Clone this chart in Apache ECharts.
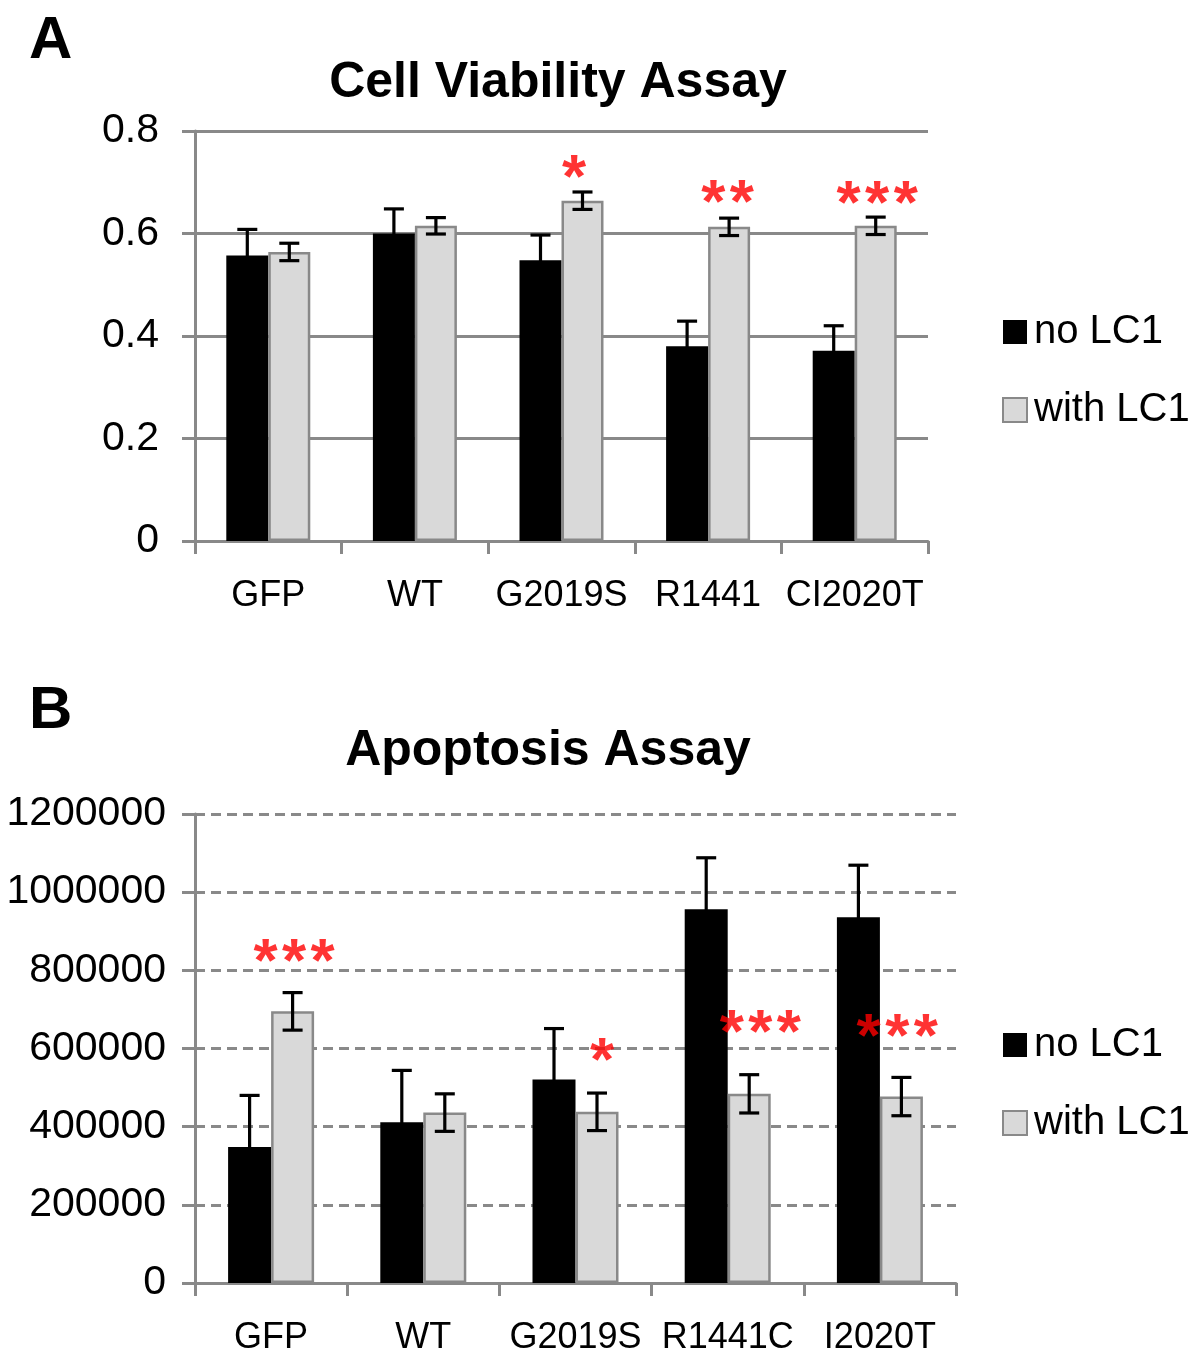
<!DOCTYPE html>
<html>
<head>
<meta charset="utf-8">
<script src="https://cdn.jsdelivr.net/npm/echarts@6/dist/echarts.min.js"></script>
<style>
html, body { margin: 0; padding: 0; background: #fff; }
#chart { width: 1200px; height: 1349px; }
</style>
</head>
<body>
<div id="chart"></div>
<script>
// panel A - cell viability
const catsA = ['GFP', 'WT', 'G2019S', 'R1441', 'CI2020T']
const viabNo = [0.557, 0.600, 0.548, 0.380, 0.371]
const viabNoErr = [0.051, 0.048, 0.049, 0.049, 0.049]
const viabWith = [0.564, 0.615, 0.664, 0.613, 0.615]
const viabWithErr = [0.017, 0.016, 0.017, 0.017, 0.017]
const ticksA = [0, 0.2, 0.4, 0.6, 0.8]
// significance marks: [place along categories, height, text]
const starsA = [[2.585, 0.730, '*'], [3.633, 0.681, '**'], [4.653, 0.679, '***']]

// panel B - apoptosis
const catsB = ['GFP', 'WT', 'G2019S', 'R1441C', 'I2020T']
const apopNo = [348000, 411000, 521000, 956000, 936000]
const apopNoErr = [132000, 133000, 130000, 132000, 133000]
const apopWith = [695000, 436000, 438000, 484000, 477000]
const apopWithErr = [48000, 48000, 48000, 49000, 49000]
const ticksB = [0, 200000, 400000, 600000, 800000, 1000000, 1200000]
const starsB = [[0.651, 849000, '***'], [2.675, 596000, '*'], [3.714, 667000, '***'], [4.614, 658000, '***']]

const FONT = 'Liberation Sans, Arial, Helvetica, sans-serif'
const AXIS_GRAY = '#898989'

function tickLabel(ticks) {
  return (v) => {
    const t = ticks.find((x) => Math.abs(x - v) < 1e-9)
    return t === undefined ? '' : String(t)
  }
}

function catAxis(gridIndex, cats) {
  return {
    type: 'category',
    gridIndex: gridIndex,
    data: cats,
    axisLine: { lineStyle: { color: AXIS_GRAY, width: 3 } },
    axisTick: { show: true, length: 13, lineStyle: { color: AXIS_GRAY, width: 3 } },
    axisLabel: { interval: 0, color: '#000', fontSize: 36, fontFamily: FONT, margin: 37 },
    splitLine: { show: false },
  }
}

function valAxis(gridIndex, ticks, dashed, margin) {
  return {
    type: 'value',
    gridIndex: gridIndex,
    min: ticks[0],
    max: ticks[ticks.length - 1],
    interval: ticks[1] - ticks[0],
    axisLine: { show: true, lineStyle: { color: AXIS_GRAY, width: 3 } },
    axisTick: { show: true, length: 13, lineStyle: { color: AXIS_GRAY, width: 3 } },
    axisLabel: { color: '#000', fontSize: 41, fontFamily: FONT, margin: margin, formatter: tickLabel(ticks) },
    splitLine: {
      show: true,
      lineStyle: { color: AXIS_GRAY, width: 3, type: dashed ? [10, 6] : 'solid' },
    },
  }
}

function hiddenAxis(gridIndex) {
  return { type: 'value', gridIndex: gridIndex, min: 0, max: 5, show: false }
}

function barSeries(name, values, idx, barW, gray) {
  return {
    name: name,
    type: 'bar',
    xAxisIndex: idx,
    yAxisIndex: idx,
    barWidth: barW,
    barGap: '0%',
    data: values,
    itemStyle: gray
      ? { color: '#d9d9d9', borderColor: AXIS_GRAY, borderWidth: 2.5 }
      : { color: '#000' },
  }
}

function errorSeries(values, errs, idx, shift) {
  return {
    type: 'custom',
    xAxisIndex: idx,
    yAxisIndex: idx,
    silent: true,
    z: 10,
    encode: { x: 0, y: [1, 2] },
    data: values.map((v, i) => [i, v - errs[i], v + errs[i]]),
    renderItem: (params, api) => {
      const lo = api.coord([api.value(0), api.value(1)])
      const hi = api.coord([api.value(0), api.value(2)])
      const x = lo[0] + shift
      const cap = 10
      const st = { stroke: '#000', lineWidth: 3.2 }
      return {
        type: 'group',
        children: [
          { type: 'line', shape: { x1: x, y1: lo[1], x2: x, y2: hi[1] }, style: st },
          { type: 'line', shape: { x1: x - cap, y1: hi[1], x2: x + cap, y2: hi[1] }, style: st },
          { type: 'line', shape: { x1: x - cap, y1: lo[1], x2: x + cap, y2: lo[1] }, style: st },
        ],
      }
    },
  }
}

function starSeries(stars, xIdx, yIdx) {
  return {
    type: 'scatter',
    xAxisIndex: xIdx,
    yAxisIndex: yIdx,
    silent: true,
    z: 12,
    symbolSize: 1,
    itemStyle: { color: 'transparent' },
    data: stars,
    label: {
      show: true,
      position: 'inside',
      offset: [0, 13],
      color: '#ff0000',
      fontSize: 62,
      fontWeight: 'bold',
      fontFamily: FONT,
      lineHeight: 62,
      formatter: (p) => p.data[2].split('').join('{s| }'),
      rich: { s: { fontSize: 16, lineHeight: 62 } },
    },
  }
}

function legendAt(top) {
  return {
    orient: 'vertical',
    left: 997,
    top: top,
    icon: 'rect',
    itemWidth: 24,
    itemHeight: 24,
    itemGap: 38,
    selectedMode: false,
    data: ['no LC1', 'with LC1'],
    textStyle: { fontSize: 40, fontFamily: FONT, color: '#000', padding: [0, 0, 0, 2] },
  }
}

const chart = echarts.init(document.getElementById('chart'), null, { renderer: 'canvas' })
chart.setOption({
  backgroundColor: '#fff',
  animation: false,
  title: [
    { text: 'A', left: 24, top: 6, textStyle: { fontSize: 60, fontWeight: 'bold', fontFamily: FONT, color: '#000' } },
    { text: 'Cell Viability Assay', left: 553, top: 53, textAlign: 'center', textStyle: { fontSize: 50, fontWeight: 'bold', fontFamily: FONT, color: '#000' } },
    { text: 'B', left: 24, top: 676, textStyle: { fontSize: 60, fontWeight: 'bold', fontFamily: FONT, color: '#000' } },
    { text: 'Apoptosis Assay', left: 543, top: 721, textAlign: 'center', textStyle: { fontSize: 50, fontWeight: 'bold', fontFamily: FONT, color: '#000' } },
  ],
  legend: [legendAt(307), legendAt(1020)],
  grid: [
    { left: 195, top: 131, width: 733, height: 410, outerBoundsMode: 'none' },
    { left: 195, top: 814, width: 761, height: 469, outerBoundsMode: 'none' },
  ],
  xAxis: [catAxis(0, catsA), catAxis(1, catsB), hiddenAxis(0), hiddenAxis(1)],
  yAxis: [valAxis(0, ticksA, false, 36), valAxis(1, ticksB, true, 29)],
  series: [
    barSeries('no LC1', viabNo, 0, 42, false),
    barSeries('with LC1', viabWith, 0, 42, true),
    errorSeries(viabNo, viabNoErr, 0, -21),
    errorSeries(viabWith, viabWithErr, 0, 21),
    barSeries('no LC1', apopNo, 1, 43, false),
    barSeries('with LC1', apopWith, 1, 43, true),
    errorSeries(apopNo, apopNoErr, 1, -21.5),
    errorSeries(apopWith, apopWithErr, 1, 21.5),
    starSeries(starsA, 2, 0),
    starSeries(starsB, 3, 1),
  ],
})
</script>
</body>
</html>
